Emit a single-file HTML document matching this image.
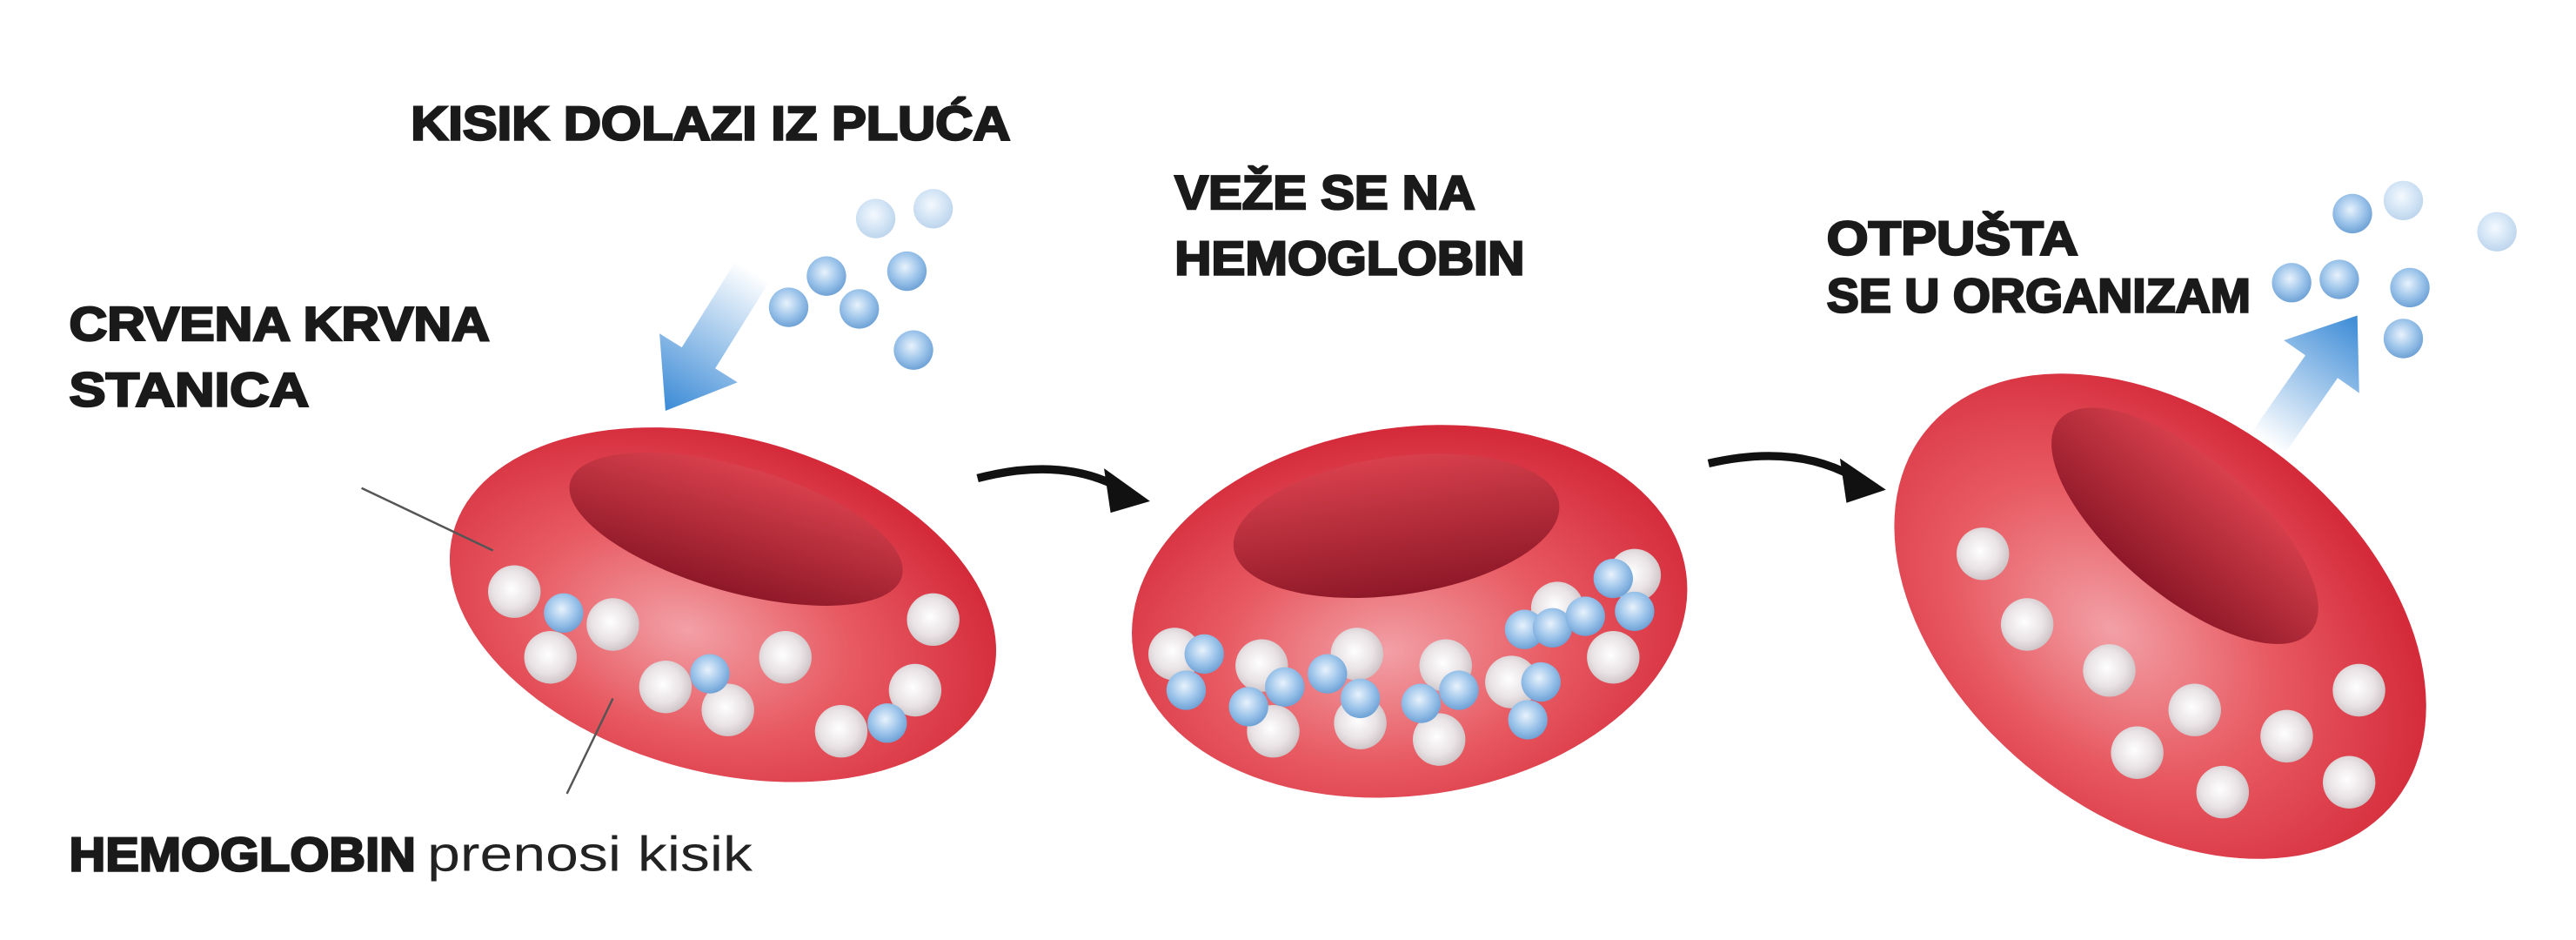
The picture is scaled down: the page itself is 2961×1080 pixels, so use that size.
<!DOCTYPE html>
<html><head><meta charset="utf-8"><style>
html,body{margin:0;padding:0;background:#fff;}
svg{display:block}
.h{font-family:"Liberation Sans",sans-serif;font-weight:bold;fill:#1a1a1a;stroke:#1a1a1a;stroke-width:1.3;}
</style></head><body>
<svg width="2961" height="1080" viewBox="0 0 1568 572" xmlns="http://www.w3.org/2000/svg">
<defs>
<radialGradient id="cell" cx="0.45" cy="0.6" r="0.6">
<stop offset="0" stop-color="#f2a0a6"/><stop offset="0.5" stop-color="#e85a62"/><stop offset="1" stop-color="#d42a3a"/></radialGradient>
<linearGradient id="hole" x1="0" y1="0" x2="0" y2="1">
<stop offset="0" stop-color="#d8404c"/><stop offset="1" stop-color="#8e1828"/></linearGradient>
<radialGradient id="wb" cx="0.45" cy="0.45" r="0.6">
<stop offset="0" stop-color="#ffffff"/><stop offset="0.6" stop-color="#e8e2e4"/><stop offset="1" stop-color="#c9bfc2"/></radialGradient>
<radialGradient id="bb" cx="0.45" cy="0.4" r="0.6">
<stop offset="0" stop-color="#e8f2fc"/><stop offset="0.6" stop-color="#9cc4ea"/><stop offset="1" stop-color="#6fa2d6"/></radialGradient>
<linearGradient id="a1" x1="0" y1="0" x2="0" y2="1">
<stop offset="0" stop-color="#3a8ad6" stop-opacity="0"/><stop offset="1" stop-color="#3a8ad6"/></linearGradient>
<linearGradient id="a2" x1="0" y1="1" x2="0" y2="0">
<stop offset="0" stop-color="#3a8ad6" stop-opacity="0"/><stop offset="1" stop-color="#3a8ad6"/></linearGradient>
</defs>

<g class="h">
<text x="250" y="85" font-size="29" textLength="365" lengthAdjust="spacingAndGlyphs">KISIK DOLAZI IZ PLUĆA</text>
<text x="42" y="207" font-size="29" textLength="256" lengthAdjust="spacingAndGlyphs">CRVENA KRVNA</text>
<text x="42" y="247" font-size="29" textLength="146" lengthAdjust="spacingAndGlyphs">STANICA</text>
<text x="715" y="127" font-size="29" textLength="183" lengthAdjust="spacingAndGlyphs">VEŽE SE NA</text>
<text x="715" y="167" font-size="29" textLength="213" lengthAdjust="spacingAndGlyphs">HEMOGLOBIN</text>
<text x="1112" y="155" font-size="29" textLength="153" lengthAdjust="spacingAndGlyphs">OTPUŠTA</text>
<text x="1112" y="190" font-size="29" textLength="258" lengthAdjust="spacingAndGlyphs">SE U ORGANIZAM</text>
<text x="42" y="530" font-size="29" textLength="211" lengthAdjust="spacingAndGlyphs">HEMOGLOBIN</text>
</g>
<text x="260" y="530" font-family="Liberation Sans Narrow, Liberation Sans, sans-serif" font-size="30" fill="#222" textLength="198" lengthAdjust="spacingAndGlyphs">prenosi kisik</text>

<g transform="rotate(15 440 368)"><ellipse cx="440" cy="368" rx="170" ry="102" fill="url(#cell)"/></g>
<g transform="rotate(16 448 322)"><ellipse cx="448" cy="322" rx="105" ry="38" fill="url(#hole)"/></g>
<g transform="rotate(-8 858 372)"><ellipse cx="858" cy="372" rx="170" ry="112" fill="url(#cell)"/></g>
<g transform="rotate(-8 850 320)"><ellipse cx="850" cy="320" rx="100" ry="42" fill="url(#hole)"/></g>
<g transform="rotate(38 1315 375)"><ellipse cx="1315" cy="375" rx="182" ry="122" fill="url(#cell)"/></g>
<g transform="rotate(40 1330 320)"><ellipse cx="1330" cy="320" rx="100" ry="42" fill="url(#hole)"/></g>

<line x1="220" y1="297" x2="300" y2="335" stroke="#555" stroke-width="1.3"/>
<line x1="373" y1="425" x2="345" y2="483" stroke="#555" stroke-width="1.3"/>

<g fill="url(#wb)">
<circle cx="313" cy="360" r="16"/><circle cx="373" cy="380" r="16"/><circle cx="335" cy="400" r="16"/><circle cx="405" cy="418" r="16"/><circle cx="443" cy="432" r="16"/><circle cx="478" cy="400" r="16"/><circle cx="568" cy="377" r="16"/><circle cx="512" cy="445" r="16"/><circle cx="557" cy="420" r="16"/>
<circle cx="715" cy="398" r="16"/><circle cx="768" cy="405" r="16"/><circle cx="826" cy="398" r="16"/><circle cx="880" cy="405" r="16"/><circle cx="920" cy="415" r="16"/><circle cx="948" cy="370" r="16"/><circle cx="995" cy="350" r="16"/><circle cx="982" cy="400" r="16"/><circle cx="775" cy="445" r="16"/><circle cx="828" cy="440" r="16"/><circle cx="876" cy="450" r="16"/>
<circle cx="1207" cy="337" r="16"/><circle cx="1234" cy="380" r="16"/><circle cx="1284" cy="408" r="16"/><circle cx="1336" cy="432" r="16"/><circle cx="1392" cy="448" r="16"/><circle cx="1436" cy="420" r="16"/><circle cx="1301" cy="458" r="16"/><circle cx="1353" cy="482" r="16"/><circle cx="1430" cy="476" r="16"/>
</g>
<g fill="url(#bb)">
<circle cx="343" cy="373" r="12"/><circle cx="432" cy="410" r="12"/><circle cx="540" cy="440" r="12"/>
<circle cx="733" cy="398" r="12"/><circle cx="722" cy="420" r="12"/><circle cx="760" cy="430" r="12"/><circle cx="782" cy="418" r="12"/><circle cx="808" cy="410" r="12"/><circle cx="828" cy="425" r="12"/><circle cx="865" cy="428" r="12"/><circle cx="888" cy="420" r="12"/><circle cx="928" cy="383" r="12"/><circle cx="945" cy="382" r="12"/><circle cx="965" cy="375" r="12"/><circle cx="982" cy="352" r="12"/><circle cx="995" cy="372" r="12"/><circle cx="938" cy="415" r="12"/><circle cx="930" cy="438" r="12"/>
<circle cx="503" cy="168" r="12"/><circle cx="552" cy="165" r="12"/><circle cx="480" cy="187" r="12"/><circle cx="523" cy="188" r="12"/><circle cx="556" cy="213" r="12"/>
<circle cx="1432" cy="130" r="12"/><circle cx="1395" cy="172" r="12"/><circle cx="1424" cy="170" r="12"/><circle cx="1467" cy="175" r="12"/><circle cx="1463" cy="206" r="12"/>
</g>
<g fill="url(#bb)" opacity="0.45">
<circle cx="533" cy="133" r="12"/><circle cx="568" cy="127" r="12"/><circle cx="1463" cy="122" r="12"/><circle cx="1520" cy="141" r="12"/>
</g>

<g transform="translate(405 250) rotate(32)"><path d="M0 0 L-28 -38 L-12 -38 L-12 -100 L12 -100 L12 -38 L28 -38 Z" fill="url(#a1)"/></g>
<g transform="translate(1435 192) rotate(35)"><path d="M0 0 L-28 38 L-12 38 L-12 95 L12 95 L12 38 L28 38 Z" fill="url(#a2)"/></g>

<path d="M595 291 Q645 278 680 296" fill="none" stroke="#111" stroke-width="5"/>
<path d="M672 285 L700 305 L676 312 Z" fill="#111"/>
<path d="M1040 282 Q1092 270 1128 290" fill="none" stroke="#111" stroke-width="5"/>
<path d="M1120 279 L1148 298 L1124 306 Z" fill="#111"/>
</svg>
</body></html>
